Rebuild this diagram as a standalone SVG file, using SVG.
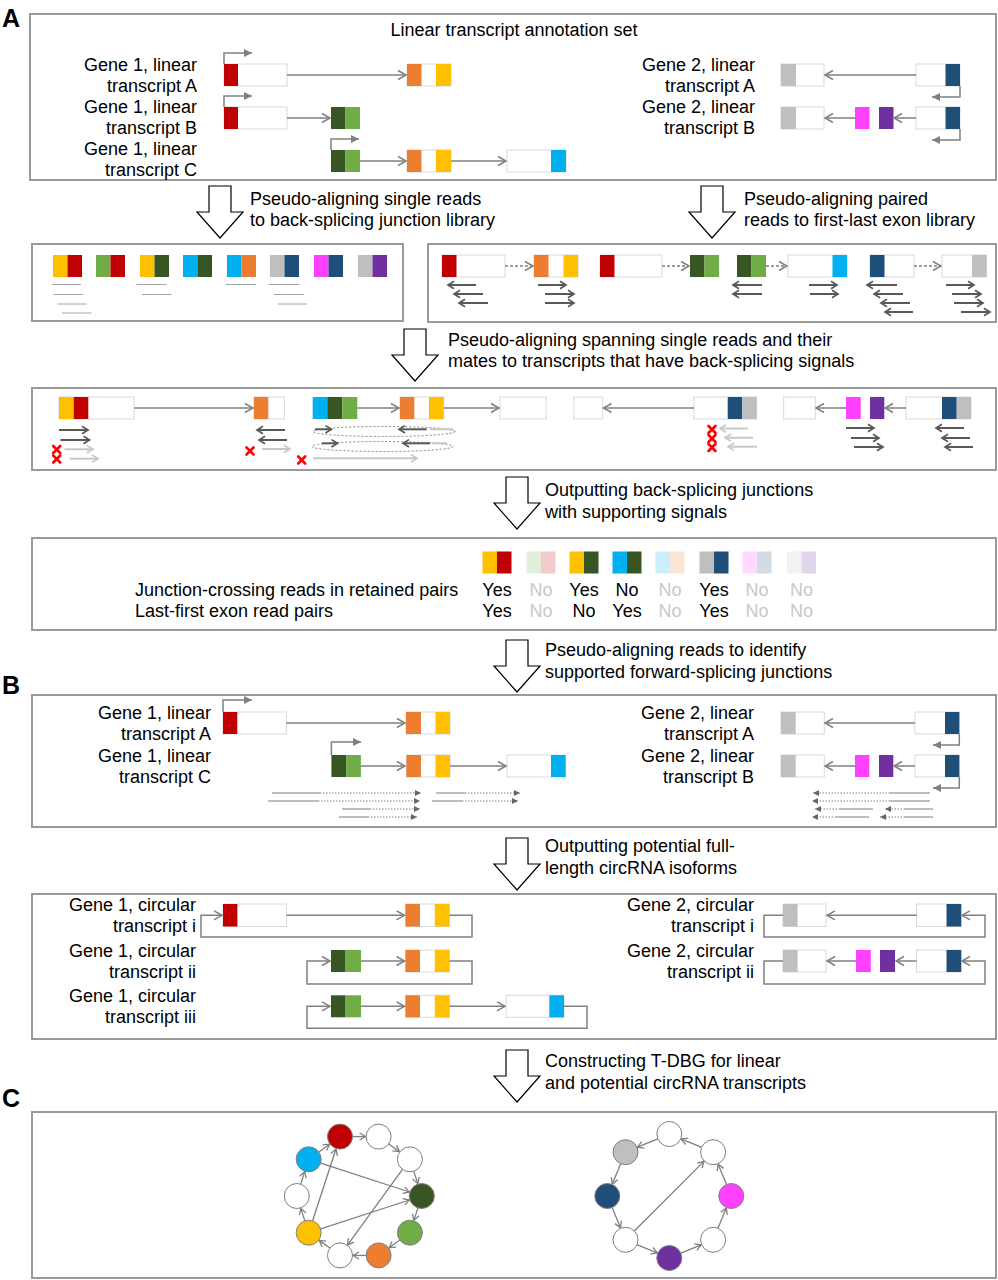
<svg xmlns="http://www.w3.org/2000/svg" xmlns:xlink="http://www.w3.org/1999/xlink" width="998" height="1280" viewBox="0 0 998 1280">
<style>
.box{fill:#fff;stroke:#999;stroke-width:2}
.wx{fill:#fff;stroke:#D9D9D9;stroke-width:1}
.ln{stroke:#808080;stroke-width:1.5;fill:none}
.dl{stroke:#808080;stroke-width:1.5;fill:none;stroke-dasharray:3 2}
.rd{stroke:#595959;stroke-width:2;fill:none}
.rl{stroke:#C8C8C8;stroke-width:2;fill:none}
.tl{stroke:#A6A6A6;stroke-width:1;fill:none}
.br{stroke:#808080;stroke-width:1;fill:none}
.bd{stroke:#808080;stroke-width:1;fill:none;stroke-dasharray:1.5 1.5}
.ell{fill:none;stroke:#808080;stroke-width:1;stroke-dasharray:2 2}
.blk{fill:#fff;stroke:#000;stroke-width:1.2}
.t{font-family:"Liberation Sans",Arial,sans-serif;font-size:18px;fill:#000}
.e{text-anchor:end}
.m{text-anchor:middle}
.f{fill:#C8C8C8}
.lab{font-family:"Liberation Sans",Arial,sans-serif;font-size:25px;font-weight:bold;fill:#000}
.R{fill:#C00000}.O{fill:#ED7D31}.Y{fill:#FFC000}.D{fill:#375623}.G{fill:#70AD47}.C{fill:#00B0F0}.S{fill:#BFBFBF}.N{fill:#1F4E79}.P{fill:#FF40FF}.V{fill:#7030A0}
.nd{stroke:#7F7F7F;stroke-width:1}
.ge{stroke:#7F7F7F;stroke-width:1.3;fill:none}
</style>
<defs>
<marker id="ch" markerUnits="userSpaceOnUse" markerWidth="12" markerHeight="12" refX="10" refY="6" orient="auto" overflow="visible"><path d="M2,1.5 L10,6 L2,10.5" fill="none" stroke="#808080" stroke-width="1.5"/></marker>
<marker id="tri" markerUnits="userSpaceOnUse" markerWidth="10" markerHeight="10" refX="8" refY="4.5" orient="auto" overflow="visible"><path d="M0,0.5 L8,4.5 L0,8.5 Z" fill="#808080"/></marker>
<marker id="mrd" markerUnits="userSpaceOnUse" markerWidth="10" markerHeight="10" refX="7.5" refY="4.5" orient="auto" overflow="visible"><path d="M1.5,0.8 L7.5,4.5 L1.5,8.2" fill="none" stroke="#595959" stroke-width="1.7"/></marker>
<marker id="mrl" markerUnits="userSpaceOnUse" markerWidth="10" markerHeight="10" refX="7.5" refY="4.5" orient="auto" overflow="visible"><path d="M1.5,0.8 L7.5,4.5 L1.5,8.2" fill="none" stroke="#C8C8C8" stroke-width="1.7"/></marker>
<marker id="mg" markerUnits="userSpaceOnUse" markerWidth="10" markerHeight="10" refX="7.5" refY="4.5" orient="auto" overflow="visible"><path d="M1.5,1 L7.5,4.5 L1.5,8" fill="none" stroke="#7F7F7F" stroke-width="1.3"/></marker>
<marker id="mb" markerUnits="userSpaceOnUse" markerWidth="8" markerHeight="8" refX="6" refY="3" orient="auto" overflow="visible"><path d="M0,0 L6,3 L0,6 Z" fill="#666"/></marker>
<path id="xm" d="M-3.5,-3.5 L3.5,3.5 M3.5,-3.5 L-3.5,3.5" stroke="#FF0000" stroke-width="2.6" stroke-linecap="round"/>
</defs>

<rect width="998" height="1280" fill="#fff"/>

<!-- Section labels -->
<text class="lab" x="2" y="27">A</text>
<text class="lab" x="2" y="694">B</text>
<text class="lab" x="2" y="1107">C</text>

<!-- ===== Panel 1: linear annotation ===== -->
<g id="panel-annotation">
<rect class="box" x="30" y="14" width="966" height="166"/>
<text class="t m" x="514" y="36">Linear transcript annotation set</text>
<g id="g1-linA">
<text class="t e" x="197" y="71">Gene 1, linear</text><text class="t e" x="197" y="92">transcript A</text>
<rect class="wx" x="224" y="64" width="63" height="22"/><rect class="R" x="224" y="64" width="14" height="22"/>
<rect class="wx" x="407" y="64" width="44" height="22"/><rect class="O" x="407" y="64" width="14.5" height="22"/><rect class="Y" x="436" y="64" width="15" height="22"/>
</g>
<g id="g1-linB">
<text class="t e" x="197" y="113">Gene 1, linear</text><text class="t e" x="197" y="134">transcript B</text>
<rect class="wx" x="224" y="107" width="63" height="22"/><rect class="R" x="224" y="107" width="14" height="22"/>
<rect class="D" x="331" y="107" width="14.5" height="22"/><rect class="G" x="345.5" y="107" width="14.5" height="22"/>
</g>
<g id="g1-linC">
<text class="t e" x="197" y="155">Gene 1, linear</text><text class="t e" x="197" y="176">transcript C</text>
<rect class="D" x="331" y="150" width="14.5" height="22"/><rect class="G" x="345.5" y="150" width="14.5" height="22"/>
<rect class="wx" x="407" y="150" width="44" height="22"/><rect class="O" x="407" y="150" width="14.5" height="22"/><rect class="Y" x="436" y="150" width="15" height="22"/>
<rect class="wx" x="507" y="150" width="59" height="22"/><rect class="C" x="551" y="150" width="15" height="22"/>
</g>
<g id="g2-linA">
<text class="t e" x="755" y="71">Gene 2, linear</text><text class="t e" x="755" y="92">transcript A</text>
<rect class="wx" x="781" y="64" width="43" height="22"/><rect class="S" x="781" y="64" width="15" height="22"/>
<rect class="wx" x="916" y="64" width="44" height="22"/><rect class="N" x="945.5" y="64" width="14.5" height="22"/>
</g>
<g id="g2-linB">
<text class="t e" x="755" y="113">Gene 2, linear</text><text class="t e" x="755" y="134">transcript B</text>
<rect class="wx" x="781" y="107" width="43" height="22"/><rect class="S" x="781" y="107" width="15" height="22"/>
<rect class="P" x="855" y="107" width="14.5" height="22"/><rect class="V" x="879" y="107" width="14.5" height="22"/>
<rect class="wx" x="916" y="107" width="44" height="22"/><rect class="N" x="945.5" y="107" width="14.5" height="22"/>
</g>
</g>

<!-- ===== Panel 2L: back-splicing junction library ===== -->
<g id="panel-bsj-library">
<rect class="box" x="32" y="244" width="371" height="77"/>
<rect class="Y" x="53" y="255" width="14.5" height="22"/><rect class="R" x="67.5" y="255" width="14.5" height="22"/>
<rect class="G" x="96" y="255" width="14.5" height="22"/><rect class="R" x="110.5" y="255" width="14.5" height="22"/>
<rect class="Y" x="140" y="255" width="14.5" height="22"/><rect class="D" x="154.5" y="255" width="14.5" height="22"/>
<rect class="C" x="183" y="255" width="14.5" height="22"/><rect class="D" x="197.5" y="255" width="14.5" height="22"/>
<rect class="C" x="227" y="255" width="14.5" height="22"/><rect class="O" x="241.5" y="255" width="14.5" height="22"/>
<rect class="S" x="270" y="255" width="14.5" height="22"/><rect class="N" x="284.5" y="255" width="14.5" height="22"/>
<rect class="P" x="314" y="255" width="14.5" height="22"/><rect class="N" x="328.5" y="255" width="14.5" height="22"/>
<rect class="S" x="358" y="255" width="14.5" height="22"/><rect class="V" x="372.5" y="255" width="14.5" height="22"/>
<path class="tl" d="M52,284.5H81 M53.5,294.5H83 M57.5,304H87 M62,313H91.5 M136.5,284.5H166.5 M142,294.5H171.5 M226,284.5H256 M269,284.5H299 M274,294.5H304 M278,304H307"/>
</g>

<!-- ===== Panel 2R: first-last exon library ===== -->
<g id="panel-fl-library">
<rect class="box" x="428" y="244" width="568" height="78"/>
<rect class="wx" x="442" y="255" width="63" height="22"/><rect class="R" x="442" y="255" width="14.5" height="22"/>
<rect class="wx" x="534" y="255" width="44" height="22"/><rect class="O" x="534" y="255" width="14.5" height="22"/><rect class="Y" x="563.5" y="255" width="14.5" height="22"/>
<rect class="wx" x="600" y="255" width="62" height="22"/><rect class="R" x="600" y="255" width="14.5" height="22"/>
<rect class="D" x="690" y="255" width="14.5" height="22"/><rect class="G" x="704.5" y="255" width="14.5" height="22"/>
<rect class="D" x="737" y="255" width="14.5" height="22"/><rect class="G" x="751.5" y="255" width="14.5" height="22"/>
<rect class="wx" x="788" y="255" width="59" height="22"/><rect class="C" x="832.5" y="255" width="14.5" height="22"/>
<rect class="wx" x="870" y="255" width="44" height="22"/><rect class="N" x="870" y="255" width="14.5" height="22"/>
<rect class="wx" x="942" y="255" width="44.5" height="22"/><rect class="S" x="972" y="255" width="14.5" height="22"/>
</g>

<!-- ===== Panel 3: spanning reads ===== -->
<g id="panel-spanning">
<rect class="box" x="32" y="388" width="964" height="82"/>
<rect class="wx" x="59" y="397" width="75" height="22"/><rect class="Y" x="59" y="397" width="14.7" height="22"/><rect class="R" x="73.7" y="397" width="14.6" height="22"/>
<rect class="wx" x="254" y="397" width="30.5" height="22"/><rect class="O" x="254" y="397" width="14.3" height="22"/>
<rect class="C" x="312.7" y="397" width="14.6" height="22"/><rect class="D" x="327.3" y="397" width="15" height="22"/><rect class="G" x="342.3" y="397" width="15" height="22"/>
<rect class="wx" x="400" y="397" width="43.7" height="22"/><rect class="O" x="400" y="397" width="14.3" height="22"/><rect class="Y" x="429" y="397" width="14.7" height="22"/>
<rect class="wx" x="500" y="397" width="46" height="22"/>
<rect class="wx" x="574" y="397" width="28.7" height="22"/>
<rect class="wx" x="694" y="397" width="62.7" height="22"/><rect class="N" x="727.7" y="397" width="14.6" height="22"/><rect class="S" x="742.3" y="397" width="14.4" height="22"/>
<rect class="wx" x="783.7" y="397" width="31.6" height="22"/>
<rect class="P" x="846" y="397" width="14.7" height="22"/><rect class="V" x="870" y="397" width="14.3" height="22"/>
<rect class="wx" x="906" y="397" width="65" height="22"/><rect class="N" x="942" y="397" width="14.7" height="22"/><rect class="S" x="956.7" y="397" width="14.3" height="22"/>
</g>

<!-- ===== Panel 4: junction table ===== -->
<g id="panel-junctions">
<rect class="box" x="32" y="538" width="964" height="92"/>
<rect class="Y" x="482.5" y="551.5" width="14.5" height="22"/><rect class="R" x="497" y="551.5" width="14.5" height="22"/>
<rect fill="#E2EFDA" x="526.5" y="551.5" width="14.5" height="22"/><rect fill="#F2CCCC" x="541" y="551.5" width="14.5" height="22"/>
<rect class="Y" x="569.5" y="551.5" width="14.5" height="22"/><rect class="D" x="584" y="551.5" width="14.5" height="22"/>
<rect class="C" x="612.5" y="551.5" width="14.5" height="22"/><rect class="D" x="627" y="551.5" width="14.5" height="22"/>
<rect fill="#CCEFFC" x="655.5" y="551.5" width="14.5" height="22"/><rect fill="#FBE5D6" x="670" y="551.5" width="14.5" height="22"/>
<rect class="S" x="699.5" y="551.5" width="14.5" height="22"/><rect class="N" x="714" y="551.5" width="14.5" height="22"/>
<rect fill="#FFD9FF" x="742.5" y="551.5" width="14.5" height="22"/><rect fill="#D2DCE4" x="757" y="551.5" width="14.5" height="22"/>
<rect fill="#F2F2F2" x="787" y="551.5" width="14.5" height="22"/><rect fill="#E2D6EC" x="801.5" y="551.5" width="14.5" height="22"/>
<text class="t" x="135" y="596">Junction-crossing reads in retained pairs</text>
<text class="t" x="135" y="617">Last-first exon read pairs</text>
<g class="t m">
<text x="497" y="596">Yes</text><text class="f" x="541" y="596">No</text><text x="584" y="596">Yes</text><text x="627" y="596">No</text><text class="f" x="670" y="596">No</text><text x="714" y="596">Yes</text><text class="f" x="757" y="596">No</text><text class="f" x="801.5" y="596">No</text>
<text x="497" y="617">Yes</text><text class="f" x="541" y="617">No</text><text x="584" y="617">No</text><text x="627" y="617">Yes</text><text class="f" x="670" y="617">No</text><text x="714" y="617">Yes</text><text class="f" x="757" y="617">No</text><text class="f" x="801.5" y="617">No</text>
</g>
</g>

<!-- ===== Panel 5: forward splicing ===== -->
<g id="panel-forward">
<rect class="box" x="32" y="695" width="964" height="132"/>
<g id="b-g1-linA">
<text class="t e" x="211" y="719">Gene 1, linear</text><text class="t e" x="211" y="740">transcript A</text>
<rect class="wx" x="223" y="712" width="63.3" height="22"/><rect class="R" x="223" y="712" width="14.3" height="22"/>
<rect class="wx" x="406" y="712" width="44" height="22"/><rect class="O" x="406" y="712" width="15" height="22"/><rect class="Y" x="435.5" y="712" width="14.5" height="22"/>
</g>
<g id="b-g1-linC">
<text class="t e" x="211" y="762">Gene 1, linear</text><text class="t e" x="211" y="783">transcript C</text>
<rect class="D" x="331.4" y="755" width="15" height="22"/><rect class="G" x="346.3" y="755" width="14.6" height="22"/>
<rect class="wx" x="406.4" y="755" width="43.6" height="22"/><rect class="O" x="406.4" y="755" width="14.6" height="22"/><rect class="Y" x="435.5" y="755" width="14.5" height="22"/>
<rect class="wx" x="507" y="755" width="58.6" height="22"/><rect class="C" x="551" y="755" width="14.6" height="22"/>
</g>
<g id="b-g2-linA">
<text class="t e" x="754" y="719">Gene 2, linear</text><text class="t e" x="754" y="740">transcript A</text>
<rect class="wx" x="781" y="712" width="43.3" height="22"/><rect class="S" x="781" y="712" width="14.7" height="22"/>
<rect class="wx" x="915" y="712" width="44.3" height="22"/><rect class="N" x="945" y="712" width="14.3" height="22"/>
</g>
<g id="b-g2-linB">
<text class="t e" x="754" y="762">Gene 2, linear</text><text class="t e" x="754" y="783">transcript B</text>
<rect class="wx" x="781" y="755" width="43.3" height="22"/><rect class="S" x="781" y="755" width="14.7" height="22"/>
<rect class="P" x="855" y="755" width="14.3" height="22"/><rect class="V" x="879" y="755" width="14.3" height="22"/>
<rect class="wx" x="915" y="755" width="44.3" height="22"/><rect class="N" x="945" y="755" width="14.3" height="22"/>
</g>
</g>

<!-- ===== Panel 6: circular isoforms ===== -->
<g id="panel-circular">
<rect class="box" x="32" y="894" width="964" height="145"/>
<g id="g1-circ-i">
<text class="t e" x="196" y="911">Gene 1, circular</text><text class="t e" x="196" y="932">transcript i</text>
<rect class="wx" x="223" y="904" width="63.4" height="22.5"/><rect class="R" x="223" y="904" width="14.4" height="22.5"/>
<rect class="wx" x="405.5" y="904" width="44" height="22.5"/><rect class="O" x="405.5" y="904" width="14.5" height="22.5"/><rect class="Y" x="434.8" y="904" width="14.6" height="22.5"/>
</g>
<g id="g1-circ-ii">
<text class="t e" x="196" y="957">Gene 1, circular</text><text class="t e" x="196" y="978">transcript ii</text>
<rect class="D" x="331" y="950" width="14.6" height="22"/><rect class="G" x="345.6" y="950" width="15.4" height="22"/>
<rect class="wx" x="405.5" y="950" width="44" height="22"/><rect class="O" x="405.5" y="950" width="14.5" height="22"/><rect class="Y" x="434.8" y="950" width="14.6" height="22"/>
</g>
<g id="g1-circ-iii">
<text class="t e" x="196" y="1002">Gene 1, circular</text><text class="t e" x="196" y="1023">transcript iii</text>
<rect class="D" x="331" y="995.3" width="14.6" height="22"/><rect class="G" x="345.6" y="995.3" width="15.4" height="22"/>
<rect class="wx" x="405.5" y="995.3" width="44" height="22"/><rect class="O" x="405.5" y="995.3" width="14.5" height="22"/><rect class="Y" x="434.8" y="995.3" width="14.6" height="22"/>
<rect class="wx" x="506" y="995.3" width="58" height="22"/><rect class="C" x="549.3" y="995.3" width="14.7" height="22"/>
</g>
<g id="g2-circ-i">
<text class="t e" x="754" y="911">Gene 2, circular</text><text class="t e" x="754" y="932">transcript i</text>
<rect class="wx" x="783" y="904" width="43" height="22.5"/><rect class="S" x="783" y="904" width="14.6" height="22.5"/>
<rect class="wx" x="916.6" y="904" width="44.6" height="22.5"/><rect class="N" x="946.5" y="904" width="14.7" height="22.5"/>
</g>
<g id="g2-circ-ii">
<text class="t e" x="754" y="957">Gene 2, circular</text><text class="t e" x="754" y="978">transcript ii</text>
<rect class="wx" x="783" y="950" width="43" height="22"/><rect class="S" x="783" y="950" width="14.6" height="22"/>
<rect class="P" x="856" y="950" width="14.8" height="22"/><rect class="V" x="880" y="950" width="15" height="22"/>
<rect class="wx" x="916.6" y="950" width="44.6" height="22"/><rect class="N" x="946.5" y="950" width="14.7" height="22"/>
</g>
</g>

<!-- ===== Panel 7: T-DBG ===== -->
<g id="panel-tdbg">
<rect class="box" x="32" y="1112" width="964" height="166"/>
<g id="graph1">
<circle class="nd R" cx="340" cy="1136.6" r="12.5"/>
<circle class="nd" fill="#fff" cx="378.6" cy="1136.6" r="12.5"/>
<circle class="nd" fill="#fff" cx="409.9" cy="1159.3" r="12.5"/>
<circle class="nd D" cx="421.8" cy="1196" r="12.5"/>
<circle class="nd G" cx="409.9" cy="1232.7" r="12.5"/>
<circle class="nd O" cx="378.6" cy="1255.4" r="12.5"/>
<circle class="nd" fill="#fff" cx="340" cy="1255.4" r="12.5"/>
<circle class="nd Y" cx="308.7" cy="1232.7" r="12.5"/>
<circle class="nd" fill="#fff" cx="296.8" cy="1196" r="12.5"/>
<circle class="nd C" cx="308.7" cy="1159.3" r="12.5"/>
</g>
<g id="graph2">
<circle class="nd" fill="#fff" cx="669.3" cy="1134" r="12.5"/>
<circle class="nd S" cx="625.5" cy="1152.2" r="12.5"/>
<circle class="nd N" cx="607.3" cy="1196" r="12.5"/>
<circle class="nd" fill="#fff" cx="625.5" cy="1239.8" r="12.5"/>
<circle class="nd V" cx="669.3" cy="1258" r="12.5"/>
<circle class="nd" fill="#fff" cx="713.1" cy="1239.8" r="12.5"/>
<circle class="nd P" cx="731.3" cy="1196" r="12.5"/>
<circle class="nd" fill="#fff" cx="713.1" cy="1152.2" r="12.5"/>
</g>
</g>

<!-- ===== Step arrows and captions ===== -->
<g id="steps">
<path class="blk" d="M209,186H231V212H243L220,238L197,212H209Z"/>
<path class="blk" d="M701,186H723V212H735L712,238L689,212H701Z"/>
<path class="blk" d="M404,329H426V355H438L415,381L392,355H404Z"/>
<path class="blk" d="M506,477H528V503H540L517,529L494,503H506Z"/>
<path class="blk" d="M506,640H528V666H540L517,692L494,666H506Z"/>
<path class="blk" d="M506,838H528V864H540L517,890L494,864H506Z"/>
<path class="blk" d="M506,1050H528V1076H540L517,1102L494,1076H506Z"/>
<text class="t" x="250" y="205">Pseudo-aligning single reads</text>
<text class="t" x="250" y="226">to back-splicing junction library</text>
<text class="t" x="744" y="205">Pseudo-aligning paired</text>
<text class="t" x="744" y="226">reads to first-last exon library</text>
<text class="t" x="448" y="346">Pseudo-aligning spanning single reads and their</text>
<text class="t" x="448" y="367">mates to transcripts that have back-splicing signals</text>
<text class="t" x="545" y="496">Outputting back-splicing junctions</text>
<text class="t" x="545" y="518">with supporting signals</text>
<text class="t" x="545" y="656">Pseudo-aligning reads to identify</text>
<text class="t" x="545" y="678">supported forward-splicing junctions</text>
<text class="t" x="545" y="852">Outputting potential full-</text>
<text class="t" x="545" y="874">length circRNA isoforms</text>
<text class="t" x="545" y="1067">Constructing T-DBG for linear</text>
<text class="t" x="545" y="1089">and potential circRNA transcripts</text>
</g>

<!-- ===== Connectors ===== -->
<g id="connectors">
<!-- panel 1 -->
<path class="ln" marker-end="url(#ch)" d="M287,75H406"/>
<path class="ln" marker-end="url(#tri)" d="M224,64V53H252"/>
<path class="ln" marker-end="url(#ch)" d="M287,118H330"/>
<path class="ln" marker-end="url(#tri)" d="M224,107V96H252"/>
<path class="ln" marker-end="url(#ch)" d="M360,161H406"/>
<path class="ln" marker-end="url(#ch)" d="M451,161H506"/>
<path class="ln" marker-end="url(#tri)" d="M331,150V139H359"/>
<path class="ln" marker-end="url(#ch)" d="M916,75H825"/>
<path class="ln" marker-end="url(#tri)" d="M960,86V97H932"/>
<path class="ln" marker-end="url(#ch)" d="M855,118H825"/>
<path class="ln" marker-end="url(#ch)" d="M916,118H894"/>
<path class="ln" marker-end="url(#tri)" d="M960,129V140H932"/>
<!-- panel 2R -->
<path class="dl" marker-end="url(#ch)" d="M505,266H533"/>
<path class="dl" marker-end="url(#ch)" d="M662,266H689"/>
<path class="dl" marker-end="url(#ch)" d="M766,266H787"/>
<path class="dl" marker-end="url(#ch)" d="M914,266H941"/>
<g marker-end="url(#mrd)">
<path class="rd" d="M476,285H448"/><path class="rd" d="M483,294H454"/><path class="rd" d="M488,303H459"/>
<path class="rd" d="M538,285H566"/><path class="rd" d="M545,294H574"/><path class="rd" d="M545,303H574"/>
<path class="rd" d="M762,285H733"/><path class="rd" d="M762,294H733"/>
<path class="rd" d="M809,285H837"/><path class="rd" d="M810,294H838"/>
<path class="rd" d="M897,285H867"/><path class="rd" d="M903,294H874"/><path class="rd" d="M910,303H881"/><path class="rd" d="M913,312H885"/>
<path class="rd" d="M946,285H974"/><path class="rd" d="M952,294H981"/><path class="rd" d="M954,303H983"/><path class="rd" d="M961,312H990"/>
</g>
<!-- panel 3 -->
<path class="ln" marker-end="url(#ch)" d="M134.3,408H253"/>
<path class="ln" marker-end="url(#ch)" d="M357.3,408H399"/>
<path class="ln" marker-end="url(#ch)" d="M443.7,408H499"/>
<path class="ln" marker-end="url(#ch)" d="M694,408H603.5"/>
<path class="ln" marker-end="url(#ch)" d="M846,408H816"/>
<path class="ln" marker-end="url(#ch)" d="M906,408H885"/>
<ellipse class="ell" cx="384" cy="431.5" rx="71" ry="5"/>
<ellipse class="ell" cx="382.5" cy="446.5" rx="70.5" ry="5"/>
<g marker-end="url(#mrd)">
<path class="rd" d="M59,430H88"/><path class="rd" d="M60.5,440H89.5"/>
<path class="rd" d="M285,430H257"/><path class="rd" d="M287,440H259"/>
<path class="rd" d="M315,429.3H331.5"/><path class="rd" d="M426.7,429.3H399"/>
<path class="rd" d="M322,443.3H337.5"/><path class="rd" d="M430,443.3H403"/>
<path class="rd" d="M846,428H874"/><path class="rd" d="M851,438H879"/><path class="rd" d="M854,447H883"/>
<path class="rd" d="M964,428H936"/><path class="rd" d="M970,438H942"/><path class="rd" d="M973,447H945"/>
</g>
<path class="rl" d="M430,429.3H453 M432,443.3H447"/>
<g marker-end="url(#mrl)">
<path class="rl" d="M64.5,449.3H93"/><path class="rl" d="M69.5,458.7H98"/>
<path class="rl" d="M262,449H290"/>
<path class="rl" d="M313,458.3H417"/>
<path class="rl" d="M748,428.5H720"/><path class="rl" d="M753,437.7H725"/><path class="rl" d="M757,446.7H728"/>
</g>
<use href="#xm" x="56.7" y="449.5"/><use href="#xm" x="56.7" y="459"/>
<use href="#xm" x="250" y="451"/><use href="#xm" x="301.7" y="460"/>
<use href="#xm" x="712" y="429.5"/><use href="#xm" x="712" y="438.5"/><use href="#xm" x="712" y="447.5"/>
<!-- panel 5 -->
<path class="ln" marker-end="url(#ch)" d="M286.3,723H405"/>
<path class="ln" marker-end="url(#tri)" d="M223,712V700H252"/>
<path class="ln" marker-end="url(#ch)" d="M361,766H405"/>
<path class="ln" marker-end="url(#ch)" d="M450,766H506"/>
<path class="ln" marker-end="url(#tri)" d="M331.4,755V742H361"/>
<path class="ln" marker-end="url(#ch)" d="M915,723H825"/>
<path class="ln" marker-end="url(#tri)" d="M959.3,734V745H933"/>
<path class="ln" marker-end="url(#ch)" d="M855,766H825"/>
<path class="ln" marker-end="url(#ch)" d="M915,766H894"/>
<path class="ln" marker-end="url(#tri)" d="M959.3,777V788H933"/>
<path class="br" d="M272,793H320 M268,801H318 M342,809H370 M339,817H368 M436,793H465 M432,801H462"/>
<g marker-end="url(#mb)">
<path class="bd" d="M320,793H421"/><path class="bd" d="M318,801H420"/><path class="bd" d="M370,809H420"/><path class="bd" d="M368,817H417"/>
<path class="bd" d="M465,793H520"/><path class="bd" d="M462,801H518"/>
<path class="bd" d="M890,793H813"/><path class="bd" d="M890,801H812"/><path class="bd" d="M840,809H815"/><path class="bd" d="M836,817H812"/>
<path class="bd" d="M905,809H885"/><path class="bd" d="M905,817H880"/>
</g>
<path class="br" d="M930,793H890 M930,801H890 M873,809H840 M869,817H836 M933,809H905 M933,817H905"/>
<!-- panel 6 -->
<path class="ln" marker-end="url(#ch)" d="M286.4,915.3H404.5"/>
<path class="ln" marker-end="url(#ch)" d="M449.4,915.3H472V937H201V915.3H222"/>
<path class="ln" marker-end="url(#ch)" d="M361,961H404.5"/>
<path class="ln" marker-end="url(#ch)" d="M449.4,961H472V984H307V961H330"/>
<path class="ln" marker-end="url(#ch)" d="M361,1006.3H404.5"/>
<path class="ln" marker-end="url(#ch)" d="M449.4,1006.3H505"/>
<path class="ln" marker-end="url(#ch)" d="M564,1006.3H587V1028.3H307V1006.3H330"/>
<path class="ln" marker-end="url(#ch)" d="M916.6,915.3H827"/>
<path class="ln" marker-end="url(#ch)" d="M783,915.3H764V937H985V915.3H962"/>
<path class="ln" marker-end="url(#ch)" d="M856,961H827"/>
<path class="ln" marker-end="url(#ch)" d="M916.6,961H896"/>
<path class="ln" marker-end="url(#ch)" d="M783,961H764V984H985V961H962"/>
<!-- panel 7 graph 1 -->
<g transform="translate(359.3,1196)" marker-end="url(#mg)">
<line class="ge" x1="59.44" y1="-6.8" x2="59.44" y2="6.3" transform="rotate(-90)"/>
<line class="ge" x1="59.44" y1="-6.8" x2="59.44" y2="6.3" transform="rotate(-54)"/>
<line class="ge" x1="59.44" y1="-6.8" x2="59.44" y2="6.3" transform="rotate(-18)"/>
<line class="ge" x1="59.44" y1="-6.8" x2="59.44" y2="6.3" transform="rotate(18)"/>
<line class="ge" x1="59.44" y1="-6.8" x2="59.44" y2="6.3" transform="rotate(54)"/>
<line class="ge" x1="59.44" y1="-6.8" x2="59.44" y2="6.3" transform="rotate(90)"/>
<line class="ge" x1="59.44" y1="-6.8" x2="59.44" y2="6.3" transform="rotate(126)"/>
<line class="ge" x1="59.44" y1="-6.8" x2="59.44" y2="6.3" transform="rotate(162)"/>
<line class="ge" x1="59.44" y1="-6.8" x2="59.44" y2="6.3" transform="rotate(198)"/>
<line class="ge" x1="59.44" y1="-6.8" x2="59.44" y2="6.3" transform="rotate(234)"/>
</g>
<g marker-end="url(#mg)">
<line class="ge" x1="320.6" y1="1163.2" x2="409.4" y2="1192"/>
<line class="ge" x1="320.6" y1="1228.8" x2="409.4" y2="1200"/>
<line class="ge" x1="312.6" y1="1220.8" x2="336" y2="1149"/>
<line class="ge" x1="402.5" y1="1169.4" x2="347.6" y2="1244.9"/>
</g>
<!-- panel 7 graph 2 -->
<g transform="translate(669.3,1196)" marker-end="url(#mg)">
<line class="ge" x1="57.28" y1="11.23" x2="57.28" y2="-10.73" transform="rotate(-112.5)"/>
<line class="ge" x1="57.28" y1="11.23" x2="57.28" y2="-10.73" transform="rotate(-157.5)"/>
<line class="ge" x1="57.28" y1="11.23" x2="57.28" y2="-10.73" transform="rotate(157.5)"/>
<line class="ge" x1="57.28" y1="11.23" x2="57.28" y2="-10.73" transform="rotate(112.5)"/>
<line class="ge" x1="57.28" y1="11.23" x2="57.28" y2="-10.73" transform="rotate(67.5)"/>
<line class="ge" x1="57.28" y1="11.23" x2="57.28" y2="-10.73" transform="rotate(22.5)"/>
<line class="ge" x1="57.28" y1="11.23" x2="57.28" y2="-10.73" transform="rotate(-22.5)"/>
<line class="ge" x1="57.28" y1="11.23" x2="57.28" y2="-10.73" transform="rotate(-67.5)"/>
</g>
<line class="ge" marker-end="url(#mg)" x1="634.3" y1="1231" x2="703.9" y2="1161.4"/>
</g>
</svg>
